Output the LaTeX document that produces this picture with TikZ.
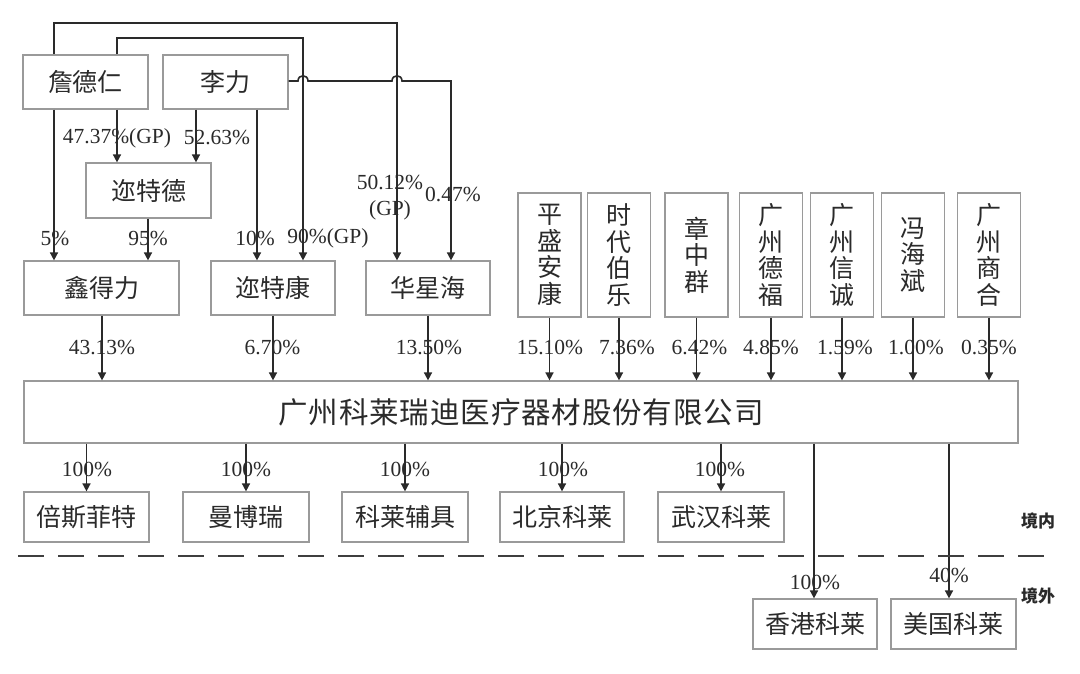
\documentclass[tikz,border=0pt]{standalone}
\usepackage{fontspec}
\setmainfont{Liberation Serif}
\newfontfamily\cjk{Noto Sans CJK SC}
\usetikzlibrary{arrows.meta}
\definecolor{boxgray}{HTML}{9A9A9A}
\definecolor{ink}{HTML}{2A2A2A}
\tikzset{
  box/.style={draw=boxgray, line width=1.2pt, fill=white, inner sep=0pt, text=ink,
    font=\cjk\fontsize{25}{26.5}\selectfont, align=center},
  vbox/.style={box, minimum width=63pt, minimum height=124pt},
  hbox/.style={box, minimum height=54pt},
  conn/.style={draw=ink, line width=1.6pt},
  arr/.style={conn, -{Triangle[length=8pt,width=8pt]}},
  pct/.style={inner sep=0pt, text=ink, font=\fontsize{21.5}{23}\selectfont},
  region/.style={inner sep=0pt, text=ink, font=\cjk\bfseries\fontsize{17}{18}\selectfont},
}
\begin{document}
\begin{tikzpicture}[x=1pt,y=-1pt]
\useasboundingbox (0,0) rectangle (1080,674);
\fill[white] (0,0) rectangle (1080,674);

% x positions of connectors
\foreach \n/\v in {a/54,b/117,c/196,d/257,e/303,f/397,g/451,h/148,i/102,j/273,k/428,
  s1/86.5,s2/246,s3/405,s4/562,s5/721,s6/814,s7/949}
  \coordinate (x\n) at (\v,0);

% top-level shareholders
\node[hbox, minimum width=125pt] (zdr) at (85.5,82) {詹德仁};
\node[hbox, minimum width=125pt] (ll) at (225.5,82) {李力};
\node[box, minimum width=125pt, minimum height=55pt] (mtd) at (148.5,190.5) {迩特德};

% second level
\node[hbox, minimum width=155pt] (xdl) at (101.5,288) {鑫得力};
\node[hbox, minimum width=124pt] (mtk) at (273,288) {迩特康};
\node[hbox, minimum width=124pt] (hxh) at (428,288) {华星海};

% vertical boxes
\node[vbox] (psak) at (549.5,255) {平\\盛\\安\\康};
\node[vbox] (sdbl) at (619,255) {时\\代\\伯\\乐};
\node[vbox] (zzq) at (696.5,255) {章\\中\\群};
\node[vbox] (gzdf) at (771,255) {广\\州\\德\\福};
\node[vbox] (gzxc) at (842,255) {广\\州\\信\\诚};
\node[vbox] (fhb) at (913,255) {冯\\海\\斌};
\node[vbox] (gzsh) at (989,255) {广\\州\\商\\合};

% main company
\node[box, minimum width=994pt, minimum height=62pt, font=\cjk\fontsize{29.5}{31}\selectfont] (main) at (521,412)
  {\addfontfeature{LetterSpace=3}广州科莱瑞迪医疗器材股份有限公司};

% subsidiaries
\node[box, minimum width=125pt, minimum height=50pt] (bsft) at (86.5,517) {倍斯菲特};
\node[box, minimum width=126pt, minimum height=50pt] (mbr) at (246,517) {曼博瑞};
\node[box, minimum width=126pt, minimum height=50pt] (klfj) at (405,517) {科莱辅具};
\node[box, minimum width=124pt, minimum height=50pt] (bjkl) at (562,517) {北京科莱};
\node[box, minimum width=126pt, minimum height=50pt] (whkl) at (721,517) {武汉科莱};
\node[box, minimum width=124pt, minimum height=50pt] (hkkl) at (815,624) {香港科莱};
\node[box, minimum width=125pt, minimum height=50pt] (uskl) at (953.5,624) {美国科莱};

% long connectors from the top
\draw[arr] (zdr.north -| xa) -- (54,23) -- (397,23) -- (hxh.north -| xf);
\draw[arr] (zdr.north -| xb) -- (117,38) -- (303,38) -- (mtk.north -| xe);
\draw[arr] (ll.east |- 0,81) -- (298,81) .. controls (298,74) and (308,74) .. (308,81)
  -- (392,81) .. controls (392,74) and (402,74) .. (402,81) -- (451,81) -- (hxh.north -| xg);

% first-level connectors
\draw[arr] (zdr.south -| xa) -- (xdl.north -| xa);
\draw[arr] (zdr.south -| xb) -- (mtd.north -| xb);
\draw[arr] (ll.south -| xc) -- (mtd.north -| xc);
\draw[arr] (ll.south -| xd) -- (mtk.north -| xd);
\draw[arr] (mtd.south -| xh) -- (xdl.north -| xh);

% to main company
\draw[arr] (xdl.south -| xi) -- (main.north -| xi);
\draw[arr] (mtk.south -| xj) -- (main.north -| xj);
\draw[arr] (hxh.south -| xk) -- (main.north -| xk);
\foreach \b in {psak,sdbl,zzq,gzdf,gzxc,fhb,gzsh}
  \draw[arr] (\b.south) -- (main.north -| \b.south);

% to subsidiaries
\foreach \b/\x in {bsft/xs1,mbr/xs2,klfj/xs3,bjkl/xs4,whkl/xs5,hkkl/xs6,uskl/xs7}
  \draw[arr] (main.south -| \x) -- (\b.north -| \x);

% border line
\coordinate (dl) at (18,556);
\coordinate (dr) at (1052,556);
\draw[draw=ink!90, line width=2.6pt, dash pattern=on 26pt off 14pt] (dl) -- (dr);
\node[region] (jn) at (1038,521) {境内};
\node[region] (jw) at (1038,596) {境外};

% percentage labels
\node[pct] at (117,138) {47.37\%(GP)};
\node[pct] at (217,138) {52.63\%};
\node[pct] at (55,238) {5\%};
\node[pct] at (148,238) {95\%};
\node[pct] at (255,238) {10\%};
\node[pct] at (328,238) {90\%(GP)};
\node[pct] at (390,183) {50.12\%};
\node[pct] at (390,210) {(GP)};
\node[pct] at (453,195) {0.47\%};

\node[pct] at (102,348) {43.13\%};
\node[pct] at (272.5,348) {6.70\%};
\node[pct] at (429,348) {13.50\%};
\node[pct] at (550,348) {15.10\%};
\node[pct] at (627,348) {7.36\%};
\node[pct] at (699.5,348) {6.42\%};
\node[pct] at (771,348) {4.85\%};
\node[pct] at (845,348) {1.59\%};
\node[pct] at (916,348) {1.00\%};
\node[pct] at (989,348) {0.35\%};

\node[pct] at (87,469) {100\%};
\node[pct] at (246,469) {100\%};
\node[pct] at (405,469) {100\%};
\node[pct] at (563,469) {100\%};
\node[pct] at (720,469) {100\%};
\node[pct] at (815,582) {100\%};
\node[pct] at (949,575) {40\%};
\end{tikzpicture}
\end{document}
